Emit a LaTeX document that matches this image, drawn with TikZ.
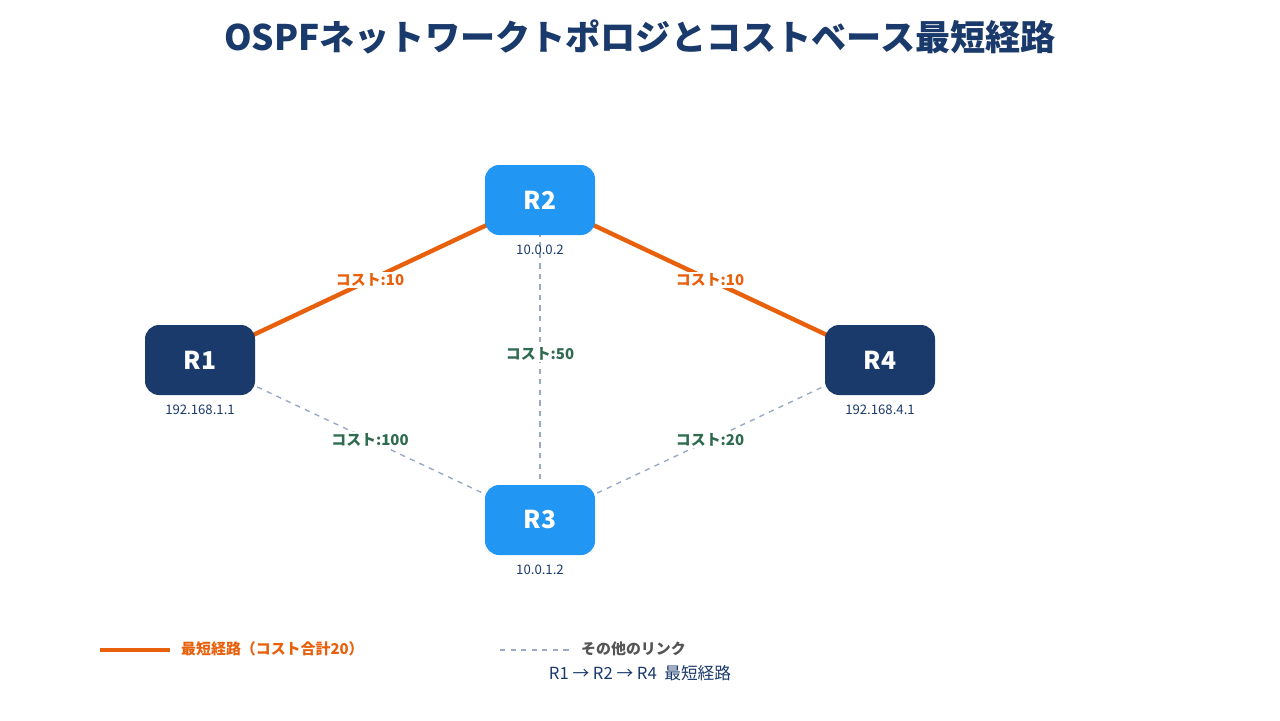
\documentclass[tikz,border=0pt]{standalone}
\usepackage{fontspec}
\setmainfont{Noto Sans CJK JP}
\usepackage{tikz}

\definecolor{navy}{HTML}{1A3A6B}
\definecolor{skyblue}{HTML}{2196F3}
\definecolor{pathorange}{HTML}{E8600C}
\definecolor{linkgrey}{HTML}{9AAAC4}
\definecolor{costgreen}{HTML}{2E6B4F}
\definecolor{legendgrey}{HTML}{555555}

\tikzset{
  router/.style={rounded corners=8pt, minimum width=110*0.02cm, minimum height=70*0.02cm,
    text=white, font=\fontsize{14}{16}\selectfont\bfseries},
  ipaddr/.style={text=navy, font=\fontsize{7.5}{9}\selectfont},
  costlbl/.style={fill=white, inner sep=1pt, font=\fontsize{8.5}{10}\selectfont\bfseries},
  shortest/.style={pathorange, line width=2.5pt},
  otherlink/.style={linkgrey, dashed, line width=0.8pt}
}

\begin{document}
\begin{tikzpicture}[x=0.02cm, y=-0.02cm]
    \useasboundingbox (0,0) rectangle (1280,720);
    \node[font=\fontsize{20}{24}\selectfont\bfseries, text=navy] (title) at (640,37) {OSPFネットワークトポロジとコストベース最短経路};

    % routers
    \coordinate (c1) at (200,360);
    \coordinate (c2) at (540,200);
    \coordinate (c3) at (540,520);
    \coordinate (c4) at (880,360);

    % links
    \draw[shortest] (c1) -- (c2) node[costlbl, text=pathorange, pos=0.5] (l12) {コスト:10};
    \draw[shortest] (c2) -- (c4) node[costlbl, text=pathorange, pos=0.5] (l24) {コスト:10};
    \draw[otherlink] (c2) -- (c3) node[costlbl, text=costgreen, pos=0.4813] (l23) {コスト:50};
    \draw[otherlink] (c1) -- (c3) node[costlbl, text=costgreen, pos=0.5] (l13) {コスト:100};
    \draw[otherlink] (c3) -- (c4) node[costlbl, text=costgreen, pos=0.5] (l34) {コスト:20};

    \node[router, fill=navy] (r1) at (c1) {R1};
    \node[router, fill=skyblue] (r2) at (c2) {R2};
    \node[router, fill=skyblue] (r3) at (c3) {R3};
    \node[router, fill=navy] (r4) at (c4) {R4};

    \node[ipaddr] (ip1) at (200,410) {192.168.1.1};
    \node[ipaddr] (ip2) at (540,250) {10.0.0.2};
    \node[ipaddr] (ip3) at (540,570) {10.0.1.2};
    \node[ipaddr] (ip4) at (880,410) {192.168.4.1};

    % legend
    \coordinate (a1) at (100,650);
    \coordinate (a2) at (170,650);
    \draw[shortest] (a1) -- (a2);
    \node[anchor=west, text=pathorange, font=\fontsize{8.5}{10}\selectfont\bfseries] (leg1) at (175,649) {最短経路（コスト合計20）};
    \coordinate (b1) at (500,650);
    \coordinate (b2) at (570,650);
    \draw[otherlink] (b1) -- (b2);
    \node[anchor=west, text=legendgrey, font=\fontsize{8.5}{10}\selectfont\bfseries] (leg2) at (575,649) {その他のリンク};
    \node[text=navy, font=\fontsize{9.5}{11}\selectfont] (route) at (640,673) {R1 → R2 → R4\ \ 最短経路};
\end{tikzpicture}
\end{document}
